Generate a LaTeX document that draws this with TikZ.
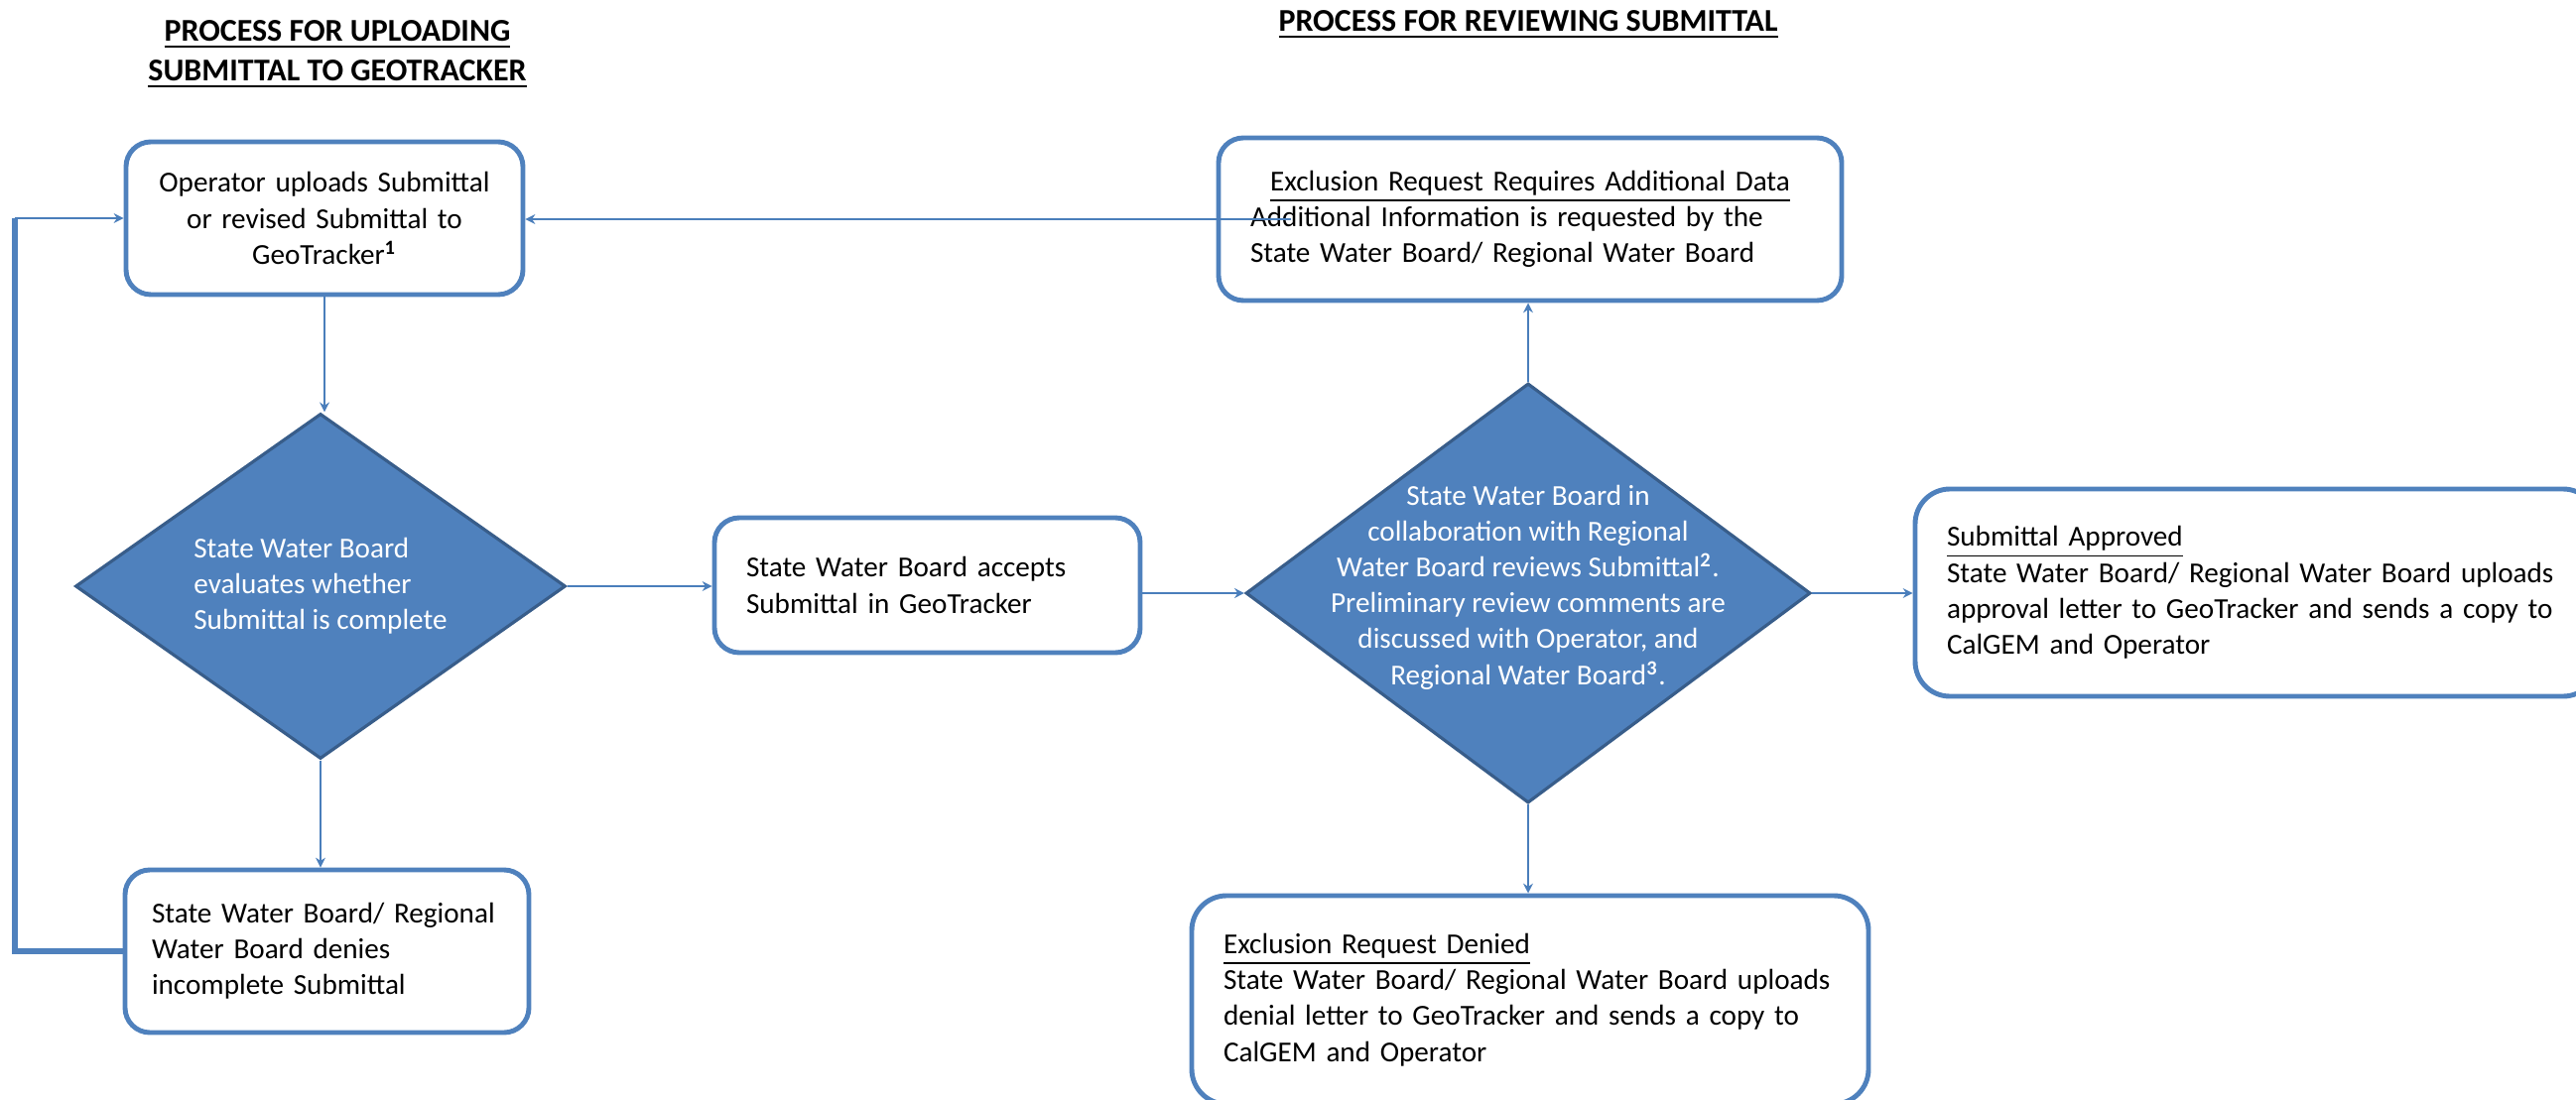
\documentclass[tikz,border=0pt]{standalone}
\usepackage{fontspec}
\setmainfont{Carlito}
\usetikzlibrary{arrows.meta,shapes.geometric}
\definecolor{boxblue}{RGB}{79,129,189}
\definecolor{edgeblue}{RGB}{56,93,138}
\definecolor{lineblue}{RGB}{74,126,187}

\begin{document}
\begin{tikzpicture}[
  every node/.style={font=\fontsize{8.3}{10.3}\selectfont},
  head/.style={font=\fontsize{9.1}{11.4}\selectfont\bfseries,align=center,inner sep=0pt},
  stepbox/.style={draw=boxblue,line width=1.4pt,fill=white,rounded corners=0.25cm,inner xsep=0.32cm,inner ysep=0pt},
  decision/.style={diamond,draw=edgeblue,line width=0.9pt,fill=boxblue,inner sep=0pt},
  dtext/.style={text=white,inner sep=0pt},
  arr/.style={draw=lineblue,line width=0.6pt,-{Stealth[length=2.8pt,width=2.8pt]}},
  loopline/.style={draw=boxblue,line width=1.7pt}
]
\useasboundingbox (0,0) rectangle (25.96,-11.09);
\node[head] (upl) at (3.40,-0.55) {\underline{PROCESS FOR UPLOADING}\\\underline{SUBMITTAL TO GEOTRACKER}};
\node[head] (rvw) at (15.40,-0.25) {\underline{PROCESS FOR REVIEWING SUBMITTAL}};
\node[stepbox,text width=3.36cm,align=center,minimum height=1.54cm] (op) at (3.27,-2.20)
  {Operator uploads Submittal\\or revised Submittal to\\GeoTracker\textsuperscript{\textbf{1}}};
\node[decision,minimum width=4.94cm,minimum height=3.48cm,
  label={[dtext,align=left]center:{State Water Board\\evaluates whether\\Submittal is complete}}] (chk) at (3.23,-5.91) {};
\node[stepbox,inner xsep=0.27cm,text width=3.53cm,align=left,minimum height=1.64cm] (deny) at (3.295,-9.59)
  {State Water Board/ Regional\\Water Board denies\\incomplete Submittal};
\node[stepbox,text width=3.65cm,align=left,minimum height=1.36cm] (acc) at (9.345,-5.90)
  {State Water Board accepts\\Submittal in GeoTracker};
\node[decision,minimum width=5.69cm,minimum height=4.23cm,
  label={[dtext,align=center,yshift=0.06cm]center:{State Water Board in\\collaboration with Regional\\Water Board reviews Submittal\textsuperscript{\textbf{2}}.\\Preliminary review comments are\\discussed with Operator, and\\Regional Water Board\textsuperscript{\textbf{3}}.}}] (rev) at (15.40,-5.98) {};
\node[stepbox,text width=5.64cm,align=left,minimum height=1.64cm] (more) at (15.42,-2.21)
  {\makebox[\linewidth][c]{\underline{Exclusion Request Requires Additional Data}}\\Additional Information is requested by the\\State Water Board/ Regional Water Board};
\node[stepbox,text width=6.24cm,align=left,minimum height=2.09cm,rounded corners=0.35cm] (appr) at (22.74,-5.975)
  {\underline{Submittal Approved}\\State Water Board/ Regional Water Board uploads\\approval letter to GeoTracker and sends a copy to\\CalGEM and Operator};
\node[stepbox,text width=6.18cm,align=left,minimum height=2.10cm,rounded corners=0.35cm] (dend) at (15.42,-10.08)
  {\underline{Exclusion Request Denied}\\State Water Board/ Regional Water Board uploads\\denial letter to GeoTracker and sends a copy to\\CalGEM and Operator};
\coordinate (lb) at (0.15,-9.59);
\coordinate (lt) at (0.15,-2.20);
\draw[arr] (op.south) -- (op.south |- chk.north);
\draw[arr] (chk.south) -- (chk.south |- deny.north);
\draw[arr] (chk.east) -- (chk.east -| acc.west);
\draw[arr] (acc.east |- rev.west) -- (rev.west);
\draw[arr] (rev.east) -- (rev.east -| appr.west);
\draw[arr] (rev.north) -- (rev.north |- more.south);
\draw[arr] (rev.south) -- (rev.south |- dend.north);
\draw[arr] ([xshift=0.75cm]more.west) -- (more.west -| op.east);
\draw[loopline] (deny.west) -- (lb) -- (lt);
\draw[arr] (lt) -- (op.west);
\end{tikzpicture}
\end{document}
